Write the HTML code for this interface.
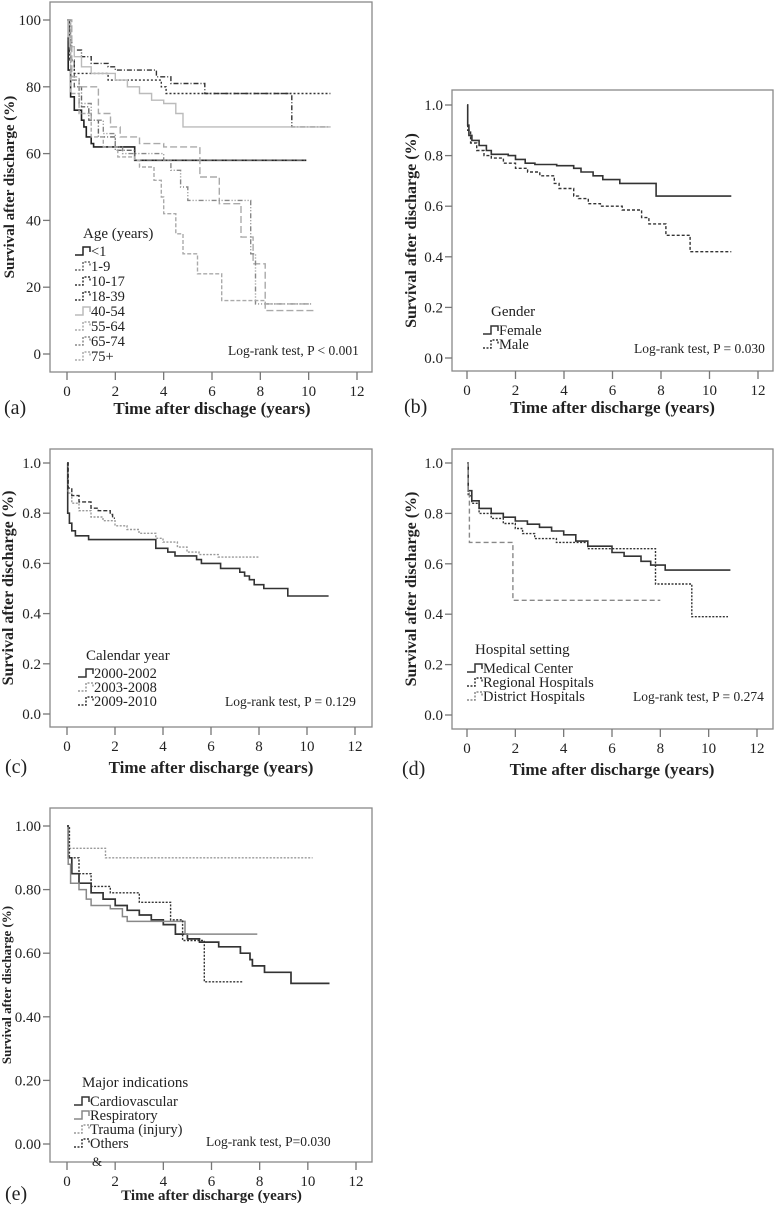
<!DOCTYPE html>
<html><head><meta charset="utf-8"><style>
html,body{margin:0;padding:0;background:#fff;}
svg{display:block;font-family:"Liberation Serif",serif;}
</style></head><body>
<svg id="fig" width="775" height="1210" viewBox="0 0 775 1210" xmlns="http://www.w3.org/2000/svg"></svg>
<script>
// ---- Panel (a) age groups: [time(years), survival %]
const a_lt1   = [[0.05,85],[0.15,77],[0.3,73],[0.6,70],[0.7,68],[0.8,65],[1.0,63],[1.1,62],[2.8,58],[9.9,58]];
const a_1_9   = [[0.1,88],[0.3,80],[0.6,74],[0.9,70],[1.3,65],[2.0,61],[2.8,58],[9.9,58]];
const a_10_17 = [[0.1,88],[0.3,84],[1.7,82],[3.9,80],[4.1,78],[10.9,78]];
const a_18_39 = [[0.05,94],[0.2,91],[0.6,89],[1.0,87],[1.7,86],[2.0,85],[3.7,83],[4.3,81],[5.7,78],[9.3,78],[9.3,68],[10.9,68]];
const a_40_54 = [[0.05,95],[0.1,92],[0.3,89],[0.6,86],[1.0,84],[2.0,82],[2.5,80],[3.0,78],[3.5,76],[4.0,75],[4.5,72],[4.8,68],[10.9,68]];
const a_55_64 = [[0.2,83],[0.5,80],[1.3,72],[1.8,68],[2.2,65],[3.0,63],[4.0,62],[5.5,60],[5.5,53],[6.3,45],[7.2,35],[7.7,27],[8.2,13],[10.2,13]];
const a_65_74 = [[0.15,82],[0.5,75],[1.0,70],[1.5,66],[2.0,62],[2.3,60],[4.0,58],[4.3,55],[4.7,50],[5.0,46],[7.4,46],[7.6,30],[7.8,15],[10.1,15]];
const a_75p   = [[0.15,78],[0.5,72],[1.0,65],[1.5,62],[2.1,59],[2.8,58],[3.0,56],[3.6,52],[3.9,47],[4.0,42],[4.5,36],[4.8,30],[5.4,24],[6.4,16],[7.7,16],[8.2,15],[10.1,15]];
// ---- Panel (b) gender
const b_female = [[0.03,0.92],[0.08,0.88],[0.2,0.86],[0.5,0.84],[0.8,0.82],[1.0,0.805],[1.7,0.80],[2.0,0.785],[2.4,0.77],[2.8,0.765],[3.7,0.76],[4.4,0.75],[4.7,0.735],[5.2,0.72],[5.6,0.705],[6.3,0.69],[7.8,0.64],[10.9,0.64]];
const b_male   = [[0.03,0.9],[0.15,0.85],[0.4,0.82],[0.7,0.80],[1.0,0.79],[1.5,0.77],[2.0,0.75],[2.5,0.735],[3.0,0.72],[3.6,0.69],[3.8,0.67],[4.4,0.64],[4.6,0.63],[5.0,0.61],[5.5,0.60],[6.4,0.585],[7.2,0.555],[7.5,0.53],[8.2,0.485],[9.2,0.42],[10.9,0.42]];
// ---- Panel (c) calendar year
const c_2000 = [[0.03,0.8],[0.1,0.76],[0.2,0.73],[0.35,0.71],[0.9,0.695],[3.65,0.695],[3.7,0.66],[4.2,0.645],[4.5,0.63],[5.4,0.615],[5.6,0.60],[6.4,0.58],[7.2,0.565],[7.4,0.55],[7.6,0.535],[7.8,0.515],[8.2,0.50],[9.2,0.47],[10.9,0.47]];
const c_2003 = [[0.05,0.88],[0.2,0.84],[0.5,0.81],[1.0,0.785],[1.5,0.77],[2.0,0.75],[2.5,0.735],[3.0,0.72],[3.7,0.70],[4.0,0.685],[4.6,0.665],[5.0,0.645],[5.5,0.635],[6.3,0.625],[8.0,0.625]];
const c_2009 = [[0.05,0.90],[0.2,0.87],[0.5,0.845],[1.0,0.82],[1.3,0.81],[1.8,0.795],[1.9,0.78],[2.0,0.78]];
// ---- Panel (d) hospital setting
const d_medical  = [[0.05,0.89],[0.2,0.85],[0.5,0.82],[1.0,0.80],[1.5,0.785],[2.0,0.77],[2.5,0.757],[3.0,0.745],[3.5,0.73],[4.0,0.715],[4.5,0.69],[5.0,0.67],[6.0,0.645],[6.5,0.63],[7.2,0.61],[7.6,0.595],[8.2,0.575],[10.9,0.575]];
const d_regional = [[0.05,0.87],[0.2,0.84],[0.5,0.80],[1.0,0.78],[1.5,0.76],[2.0,0.74],[2.3,0.72],[2.8,0.70],[3.7,0.685],[5.0,0.66],[7.7,0.66],[7.8,0.52],[9.3,0.39],[10.8,0.39]];
const d_district = [[0.05,0.88],[0.1,0.685],[1.85,0.685],[1.9,0.455],[8.0,0.455]];
// ---- Panel (e) major indications
const e_cardio  = [[0.05,0.90],[0.2,0.85],[0.5,0.82],[1.0,0.79],[1.5,0.77],[2.0,0.75],[2.5,0.735],[3.0,0.72],[3.5,0.705],[4.0,0.69],[4.5,0.66],[5.0,0.645],[5.5,0.635],[6.3,0.62],[7.2,0.60],[7.6,0.58],[7.7,0.56],[8.2,0.54],[9.3,0.505],[10.9,0.505]];
const e_resp    = [[0.05,0.88],[0.15,0.82],[0.5,0.80],[0.8,0.77],[1.0,0.75],[1.8,0.74],[2.3,0.715],[2.5,0.70],[4.9,0.70],[4.9,0.66],[7.9,0.66]];
const e_trauma  = [[0.1,0.93],[1.6,0.90],[10.2,0.90]];
const e_others  = [[0.1,0.90],[0.5,0.85],[1.0,0.81],[1.8,0.79],[3.0,0.76],[4.3,0.705],[4.8,0.64],[5.7,0.51],[7.3,0.51]];
const xTicks = [0,2,4,6,8,10,12];
const aTicks = [0,20,40,60,80,100];
const bTicks = [0.0,0.2,0.4,0.6,0.8,1.0];
const eTicks = [0.0,0.2,0.4,0.6,0.8,1.0];

const NS="http://www.w3.org/2000/svg";
const svg=document.getElementById('fig');
function mk(tag,attrs,parent){const e=document.createElementNS(NS,tag);for(const k in attrs)e.setAttribute(k,attrs[k]);(parent||svg).appendChild(e);return e;}

function panel(p){
  const g=mk('g',{});
  
  
  const X=t=>p.x0+(p.x12-p.x0)*t/12;
  const Y=v=>p.yb+(p.yt-p.yb)*(v-p.vmin)/(p.vmax-p.vmin);
  const box=mk('rect',{x:p.bx,y:p.by,width:p.bw,height:p.bh,fill:'none',stroke:'#888','stroke-width':1.3},g);
  
  
  const by2=p.by+p.bh;
  xTicks.forEach(t=>{
    const l=mk('line',{x1:X(t),x2:X(t),y1:by2,y2:by2+8,stroke:'#777','stroke-width':1.3},g);
    
    
    const tx=mk('text',{x:X(t),y:by2+24,'text-anchor':'middle','font-size':15,fill:'#222'},g);
    tx.textContent=t;
    
    
  });
  p.ticks.forEach(v=>{
    const l=mk('line',{x1:p.bx-7,x2:p.bx,y1:Y(v),y2:Y(v),stroke:'#777','stroke-width':1.3},g);
    
    
    const tx=mk('text',{x:p.bx-9,y:Y(v)+5,'text-anchor':'end','font-size':15,fill:'#222'},g);
    tx.textContent=v.toFixed(p.dec);
    
    
  });
  p.series.forEach(s=>{
    let d='M'+X(0)+' '+Y(p.vmax);
    s.data.forEach(pt=>{d+=' H'+X(pt[0]).toFixed(1)+' V'+Y(pt[1]).toFixed(1);});
    const path=mk('path',{d:d,fill:'none',stroke:s.c,'stroke-width':s.w||1.4,'stroke-dasharray':s.da||'none'},g);
    
    
  });
  const xt=mk('text',{x:(p.x0+p.x12)/2,y:p.xly,'text-anchor':'middle','font-size':p.xfs||17,'font-weight':'bold',fill:'#222'},g);
  xt.textContent=p.xlabel;
  
  
  const yc=(p.by+by2)/2;
  const yt=mk('text',{x:p.ylx,y:yc,'text-anchor':'middle','font-size':p.yfs||16,'font-weight':'bold',fill:'#222',transform:'rotate(-90 '+p.ylx+' '+yc+')'},g);
  yt.textContent='Survival after discharge (%)';
  
  
  const lt=mk('text',{x:p.plx,y:p.xly,'font-size':20,fill:'#222'},g);
  lt.textContent='('+p.id+')';
  
  
  const lr=mk('text',{x:p.lrx,y:p.lry,'font-size':13.5,fill:'#222'},g);
  lr.textContent=p.logrank;
  
  
  const lgTitle=mk('text',{x:p.lgx+4,y:p.lgty,'font-size':15,fill:'#222'},g);
  lgTitle.textContent=p.lgTitle;
  
  
  p.series.forEach((s,i)=>{
    const yy=p.lgy+p.lgs*i;
    const sw=mk('path',{d:'M'+(p.lgx-4)+' '+(yy-1)+' H'+(p.lgx+4)+' V'+(yy-9)+' H'+(p.lgx+11)+' V'+(yy-4),fill:'none',stroke:s.c,'stroke-width':1.5,'stroke-dasharray':s.da?'2,1.5':'none'},g);
    
    
    const t=mk('text',{x:p.lgx+12,y:yy,'font-size':14.5,fill:'#222'},g);
    t.textContent=s.label;
    
    
  });
  if(p.extra){const t=mk('text',{x:p.extra.x,y:p.extra.y,'font-size':13,fill:'#222'},g);t.textContent=p.extra.t;
    
    }
}

panel({id:'a',bx:50,by:2,bw:322,bh:370,x0:67,x12:357,yt:20,yb:354,vmin:0,vmax:100,ticks:aTicks,dec:0,
  xlabel:'Time after dischage (years)',xly:414,ylx:14,plx:4,lrx:228,lry:355,lgx:79,lgty:238,lgy:256,lgs:15,lgTitle:'Age (years)',
  logrank:'Log-rank test, P < 0.001',yfs:15,
  series:[
   {name:'lt1',label:'<1',data:a_lt1,c:'#222',w:1.6},
   {name:'1-9',label:'1-9',data:a_1_9,c:'#666',da:'5,2,1,2'},
   {name:'10-17',label:'10-17',data:a_10_17,c:'#333',da:'2,2'},
   {name:'18-39',label:'18-39',data:a_18_39,c:'#333',da:'5,2,1,2'},
   {name:'40-54',label:'40-54',data:a_40_54,c:'#bbb'},
   {name:'55-64',label:'55-64',data:a_55_64,c:'#aaa',da:'7,3'},
   {name:'65-74',label:'65-74',data:a_65_74,c:'#888',da:'5,2,1,2,1,2'},
   {name:'75+',label:'75+',data:a_75p,c:'#aaa',da:'4,2'}]});

panel({id:'b',bx:452,by:90,bw:321,bh:281,x0:467,x12:758,yt:105,yb:358,vmin:0,vmax:1,ticks:bTicks,dec:1,
  xlabel:'Time after discharge (years)',xly:413,ylx:416,plx:404,lrx:634,lry:353,lgx:487,lgty:316,lgy:335,lgs:14,lgTitle:'Gender',
  logrank:'Log-rank test, P = 0.030',
  series:[{name:'female',label:'Female',data:b_female,c:'#333',w:1.6},
          {name:'male',label:'Male',data:b_male,c:'#333',da:'3,2'}]});

panel({id:'c',bx:50,by:449,bw:322,bh:278,x0:67,x12:355,yt:463,yb:714,vmin:0,vmax:1,ticks:bTicks,dec:1,
  xlabel:'Time after discharge (years)',xly:773,ylx:13,plx:5,lrx:225,lry:706,lgx:82,lgty:660,lgy:678,lgs:14,lgTitle:'Calendar year',
  logrank:'Log-rank test, P = 0.129',
  series:[{name:'2000-2002',label:'2000-2002',data:c_2000,c:'#333',w:1.6},
          {name:'2003-2008',label:'2003-2008',data:c_2003,c:'#999',da:'2,1.5'},
          {name:'2009-2010',label:'2009-2010',data:c_2009,c:'#333',da:'4,2'}]});

panel({id:'d',bx:452,by:449,bw:321,bh:280,x0:467,x12:757,yt:463,yb:715,vmin:0,vmax:1,ticks:bTicks,dec:1,
  xlabel:'Time after discharge (years)',xly:775,ylx:416,plx:402,lrx:633,lry:701,lgx:471,lgty:654,lgy:673,lgs:14,lgTitle:'Hospital setting',
  logrank:'Log-rank test, P = 0.274',
  series:[{name:'medical-center',label:'Medical Center',data:d_medical,c:'#333',w:1.6},
          {name:'regional',label:'Regional Hospitals',data:d_regional,c:'#333',da:'2,1.5'},
          {name:'district',label:'District Hospitals',data:d_district,c:'#888',da:'5,3'}]});

panel({id:'e',bx:50,by:808,bw:322,bh:354,x0:67,x12:356,yt:826,yb:1144,vmin:0,vmax:1,ticks:eTicks,dec:2,
  xlabel:'Time after discharge (years)',xly:1200,ylx:11,plx:5,lrx:206,lry:1146,lgx:78,lgty:1087,lgy:1106,lgs:14,lgTitle:'Major indications',
  logrank:'Log-rank test, P=0.030',xfs:15,yfs:13,
  extra:{x:92,y:1166,t:'&'},
  series:[{name:'cardiovascular',label:'Cardiovascular',data:e_cardio,c:'#333',w:1.7},
          {name:'respiratory',label:'Respiratory',data:e_resp,c:'#888',w:1.5},
          {name:'trauma',label:'Trauma (injury)',data:e_trauma,c:'#999',da:'2,1.5'},
          {name:'others',label:'Others',data:e_others,c:'#333',da:'2,1.5'}]});
</script>
</body></html>
